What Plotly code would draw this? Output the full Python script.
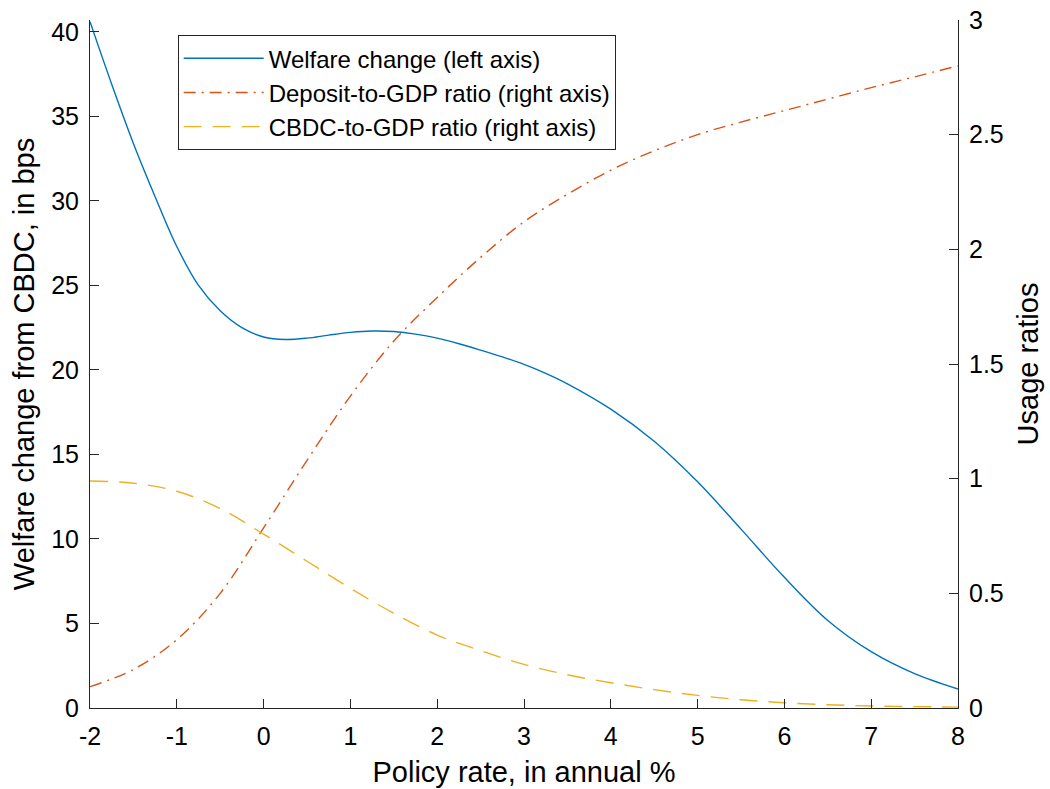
import plotly.graph_objects as go

# Welfare change from introducing a CBDC (bps, left axis) against the policy rate (annual %)
policy_rate_w = [-2, -1.75, -1.5, -1.25, -1, -0.75, -0.5, -0.25, 0, 0.25, 0.5, 0.75,
                 1, 1.25, 1.5, 1.75, 2, 2.25, 2.5, 2.75, 3, 3.25, 3.5, 4, 4.5, 5, 5.5,
                 6, 6.5, 7, 7.5, 8]
welfare_bps = [40.6, 36.9, 33.4, 30.25, 27.3, 25.0, 23.5, 22.5, 21.95, 21.8, 21.88, 22.06,
               22.22, 22.3, 22.27, 22.12, 21.88, 21.55, 21.17, 20.77, 20.33, 19.8, 19.18,
               17.68, 15.78, 13.38, 10.58, 7.73, 5.18, 3.33, 2.03, 1.12]

# Usage ratios (right axis)
policy_rate_u = [-2, -1.5, -1, -0.5, 0, 0.5, 1, 1.5, 2, 2.5, 3, 3.5, 4, 4.5, 5, 5.5,
                 6, 6.5, 7, 7.5, 8]
deposit_to_gdp = [0.093, 0.168, 0.298, 0.50, 0.785, 1.08, 1.36, 1.60, 1.79, 1.965, 2.12,
                  2.24, 2.345, 2.43, 2.50, 2.555, 2.605, 2.655, 2.705, 2.752, 2.80]
cbdc_to_gdp = [0.99, 0.98, 0.945, 0.87, 0.758, 0.64, 0.522, 0.413, 0.318, 0.25, 0.19,
               0.145, 0.11, 0.08, 0.055, 0.036, 0.023, 0.014, 0.009, 0.006, 0.004]

x_ticks = [-2, -1, 0, 1, 2, 3, 4, 5, 6, 7, 8]
x_tick_text = ["-2", "-1", "0", "1", "2", "3", "4", "5", "6", "7", "8"]
left_ticks = [0, 5, 10, 15, 20, 25, 30, 35, 40]
right_ticks = [0, 0.5, 1, 1.5, 2, 2.5, 3]
right_tick_text = ["0", "0.5", "1", "1.5", "2", "2.5", "3"]

BLUE = "#0072BD"
ORANGE = "#D95319"
YELLOW = "#EDB120"
AXIS = "#262626"
FONT = "Liberation Sans, Arial, Helvetica, sans-serif"
TICK_SIZE = 25
TITLE_SIZE = 29
LEGEND_SIZE = 24

fig = go.Figure()

fig.add_trace(go.Scatter(
    x=policy_rate_w, y=welfare_bps, mode="lines",
    name="Welfare change (left axis)",
    line=dict(color=BLUE, width=1.4, shape="spline", smoothing=1.0),
    yaxis="y",
))
fig.add_trace(go.Scatter(
    x=policy_rate_u, y=deposit_to_gdp, mode="lines",
    name="Deposit-to-GDP ratio (right axis)",
    line=dict(color=ORANGE, width=1.4, shape="spline", smoothing=1.0,
              dash="12px,6px,2px,6px"),
    yaxis="y2",
))
fig.add_trace(go.Scatter(
    x=policy_rate_u, y=cbdc_to_gdp, mode="lines",
    name="CBDC-to-GDP ratio (right axis)",
    line=dict(color=YELLOW, width=1.4, shape="spline", smoothing=1.0,
              dash="18px,11px"),
    yaxis="y2",
))

axis_common = dict(
    showline=True, linecolor=AXIS, linewidth=1,
    ticks="inside", ticklen=9, tickcolor=AXIS, tickwidth=1,
    showgrid=False, zeroline=False, automargin=False,
    tickfont=dict(family=FONT, size=TICK_SIZE, color="black"),
)

fig.update_layout(
    width=1050, height=789,
    margin=dict(l=90, r=92, t=20, b=81),
    paper_bgcolor="white", plot_bgcolor="white",
    font=dict(family=FONT, size=TICK_SIZE, color="black"),
    showlegend=True,
    legend=dict(
        x=0.101, y=0.978, xanchor="left", yanchor="top",
        bgcolor="white", bordercolor=AXIS, borderwidth=1,
        font=dict(family=FONT, size=LEGEND_SIZE, color="black"),
        itemwidth=80, tracegroupgap=0,
    ),
    xaxis=dict(
        range=[-2, 8], tickvals=x_ticks, ticktext=x_tick_text,
        mirror=False, ticklabelstandoff=6,
        title=dict(text="Policy rate, in annual %", standoff=12,
                   font=dict(family=FONT, size=TITLE_SIZE, color="black")),
        **axis_common,
    ),
    yaxis=dict(
        range=[0, 40.7], tickvals=left_ticks, ticklabelstandoff=5,
        title=dict(text="Welfare change from CBDC, in bps", standoff=8,
                   font=dict(family=FONT, size=TITLE_SIZE, color="black")),
        **axis_common,
    ),
    yaxis2=dict(
        range=[0, 3], tickvals=right_ticks, ticktext=right_tick_text,
        overlaying="y", side="right", anchor="x", ticklabelstandoff=5,
        title=dict(text="Usage ratios", standoff=14,
                   font=dict(family=FONT, size=TITLE_SIZE, color="black")),
        **axis_common,
    ),
)

fig.write_html("out.html")
